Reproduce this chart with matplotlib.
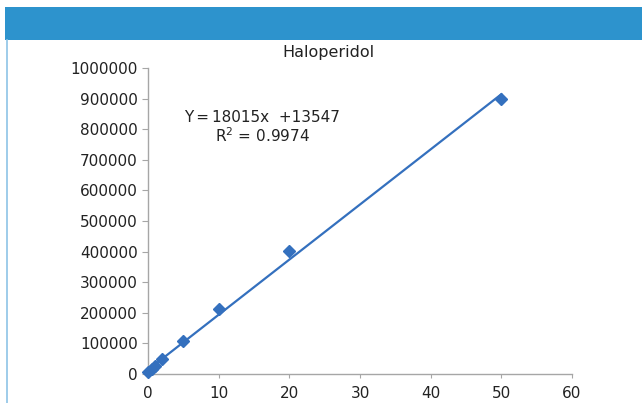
import matplotlib
matplotlib.use("Agg")
import matplotlib.pyplot as plt
from matplotlib.patches import Rectangle
from matplotlib.lines import Line2D
import numpy as np

# Calibration data for haloperidol
concentration = [0, 0.5, 1, 2, 5, 10, 20, 50]
peak_area = [6000, 16000, 26000, 50000, 108000, 212000, 403000, 898000]
slope = 18015
intercept = 13547
r_squared = 0.9974

x_ticks = [0, 10, 20, 30, 40, 50, 60]
y_ticks = list(range(0, 1000001, 100000))

blue = "#3470BE"
header_blue = "#2D93CD"

fig = plt.figure(figsize=(6.42, 4.03), dpi=100)
fig.patch.set_facecolor("white")

# header band and left frame line
fig.add_artist(Rectangle((5 / 642, 1 - 40 / 403), 1, 33 / 403,
                         transform=fig.transFigure, facecolor=header_blue,
                         edgecolor="none"))
fig.add_artist(Line2D([6.5 / 642, 6.5 / 642], [0, 1 - 40 / 403],
                      transform=fig.transFigure, color="#8EC3E6", lw=1.2))

ax = fig.add_axes([148 / 642, 29 / 403, 424 / 642, 306 / 403])
ax.set_xlim(0, 60)
ax.set_ylim(0, 1000000)
ax.set_xticks(x_ticks)
ax.set_yticks(y_ticks)
ax.set_yticklabels([str(v) for v in y_ticks])

for side in ("top", "right"):
    ax.spines[side].set_visible(False)
for side in ("left", "bottom"):
    ax.spines[side].set_color("#A6A6A6")
    ax.spines[side].set_linewidth(1.0)
ax.tick_params(axis="both", colors="#A6A6A6", labelcolor="#222222",
               labelsize=11, length=4, width=0.8)
ax.tick_params(axis="x", pad=6, length=3)

# linear fit line
fit_x = np.array([0, 50])
ax.plot(fit_x, slope * fit_x + intercept, color=blue, lw=1.6, zorder=2,
        clip_on=False)
ax.plot(concentration, peak_area, linestyle="none", marker="D",
        markersize=6, color=blue, zorder=3, clip_on=False)

fig.text(328 / 642, 1 - 52 / 403, "Haloperidol", ha="center", va="center",
         fontsize=11.5, color="#222222")
ax.text(0.27, 0.838, "Y\u2009=\u200918015x  +13547", transform=ax.transAxes,
        ha="center", va="center", fontsize=11, color="#222222")
ax.text(0.27, 0.779, f"R$^2$ = {r_squared}", transform=ax.transAxes,
        ha="center", va="center", fontsize=11, color="#222222")

fig.savefig("out.png", dpi=100)
